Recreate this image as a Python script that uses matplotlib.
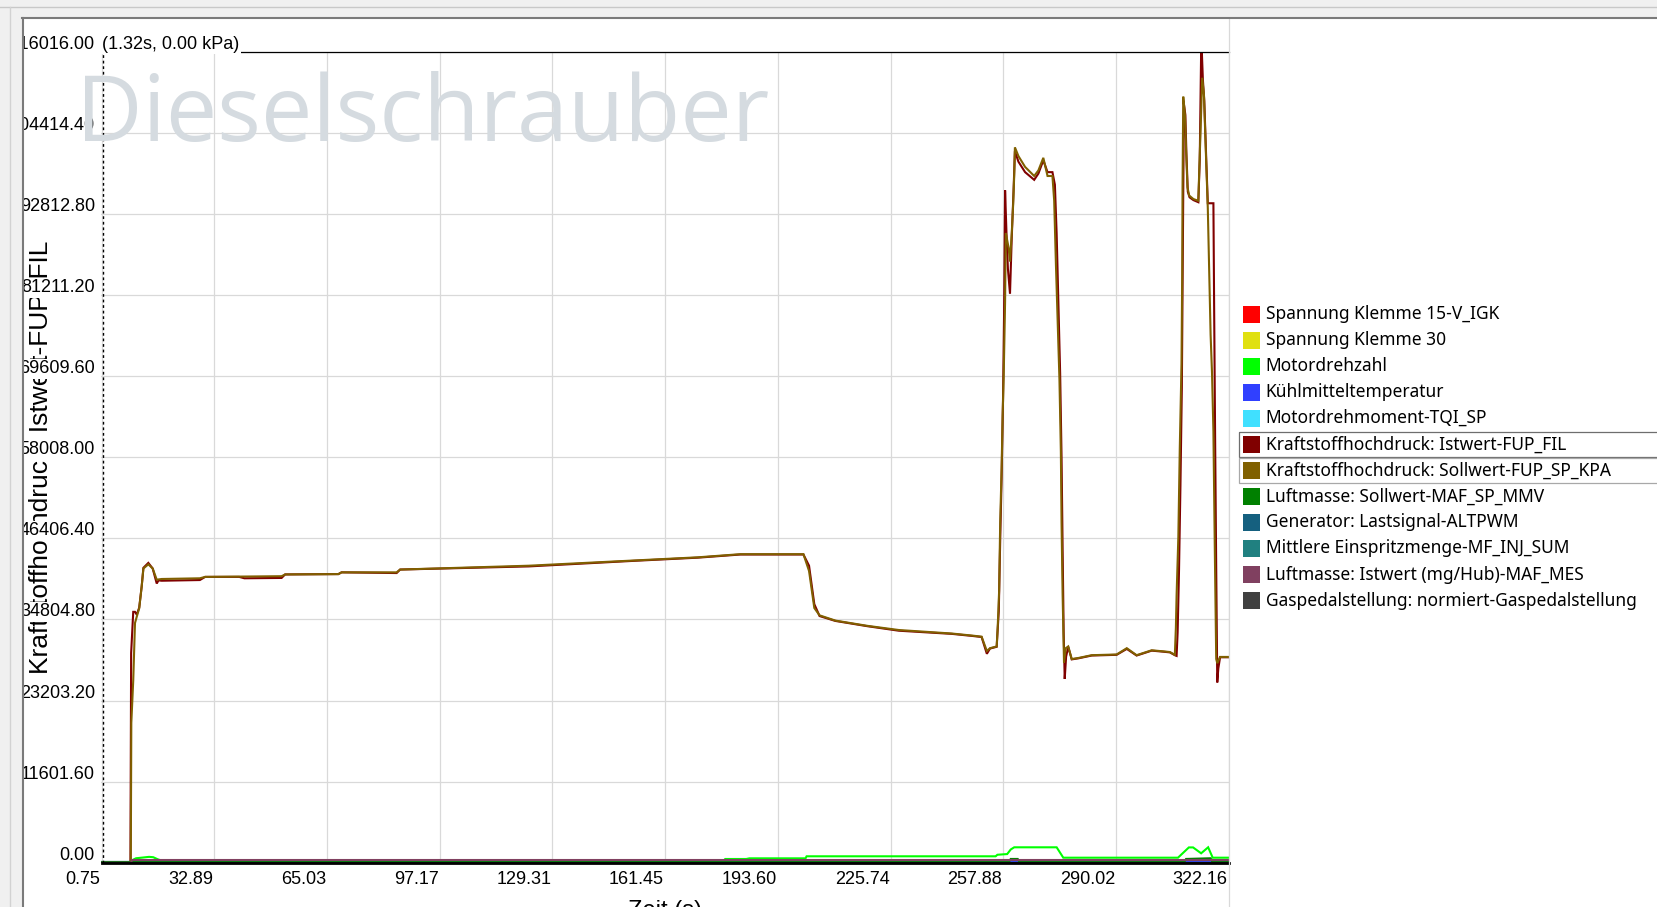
import matplotlib
matplotlib.use("Agg")
import matplotlib.pyplot as plt
from matplotlib.patches import Rectangle
from matplotlib.transforms import offset_copy

W, H = 1658, 907

# ---- axis ticks ----
x_ticks = [0.75, 32.89, 65.03, 97.17, 129.31, 161.45, 193.60, 225.74, 257.88, 290.02, 322.16]
x_tick_labels = ["0.75", "32.89", "65.03", "97.17", "129.31", "161.45", "193.60",
                 "225.74", "257.88", "290.02", "322.16"]
y_ticks = [0, 11601.6, 23203.2, 34804.8, 46406.4, 58008.0, 69609.6, 81211.2,
           92812.8, 104414.4, 116016.0]
y_tick_labels = ["0.00", "11601.60", "23203.20", "34804.80", "46406.40", "58008.00",
                 "69609.60", "81211.20", "92812.80", "104414.40", "116016.00"]
cursor_time = 1.32
cursor_text = "(1.32s, 0.00 kPa)"

# ---- Kraftstoffhochdruck: Sollwert (kPa) ----
soll_t = [0.75, 9.1, 9.25, 9.8, 10.3, 10.8, 11.5, 12.2, 12.7, 14.1, 15.35, 16.5, 17.9,
          28.8, 30.3, 52.1, 53.1, 68.3, 69.2, 84.9, 85.9, 122.6, 152.7, 170.8, 182.9,
          200.9, 202.5, 204.0, 205.5, 210.0, 219.1, 228.1, 243.2, 249.1, 251.7, 253.2,
          254.1, 256.0, 256.3, 256.7, 257.0, 257.4, 257.7, 258.0, 258.4, 258.6, 259.4,
          259.8, 260.3, 260.7, 261.0, 261.2, 262.2, 264.1, 266.7, 267.9, 269.3, 270.5,
          271.9, 272.4, 272.9, 273.4, 273.9, 274.3, 274.5, 274.8, 275.2, 275.7, 276.4,
          277.4, 279.3, 283.1, 290.2, 293.1, 295.9, 300.2, 303.5, 305.4, 306.8, 307.1,
          307.3, 307.8, 308.2, 308.7, 308.9, 309.0, 309.2, 309.7, 310.0, 310.4, 310.9,
          312.1, 313.5, 313.8, 314.2, 314.6, 315.1, 315.7, 316.2, 316.6, 317.0, 317.4,
          317.8, 318.2, 318.6, 318.9, 319.7, 322.16]
soll_kpa = [0, 0, 20000, 26100, 34300, 35200, 36400, 39500, 42100, 42700, 42100, 40500, 40600,
            40700, 40900, 41000, 41250, 41300, 41550, 41550, 41950, 42500, 43250, 43700, 44150,
            44150, 41750, 36450, 35400, 34650, 33900, 33300, 32800, 32500, 32350, 30300,
            30700, 30950, 33800, 38900, 48600, 56300, 64000, 69600, 80350, 90100, 88000,
            86000, 90100, 94200, 98300, 102350, 101100, 99550, 98250, 99050, 100850, 98250,
            98250, 94700, 85500, 77300, 69100, 58850, 48600, 38400, 28650, 30700, 30950,
            29150, 29300, 29700, 29800, 30700, 29700, 30400, 30250, 30150, 29750, 33650,
            38200, 46600, 59000, 71300, 84000, 96650, 109600, 106900, 102050, 96650, 95450,
            94950, 94700, 99650, 105700, 112300, 109900, 100850, 93650, 84600, 75550, 70100,
            61700, 44800, 29150, 28550, 29450, 29450]

# ---- Kraftstoffhochdruck: Istwert (kPa) ----
ist_t = [0.75, 9.0, 9.2, 9.8, 10.3, 10.8, 11.5, 12.2, 12.7, 14.1, 15.35, 16.5, 17.0, 17.9,
         28.8, 30.3, 40.0, 41.5, 52.1, 53.1, 68.3, 69.2, 84.9, 85.9, 122.6, 152.7, 170.8,
         182.9, 200.9, 202.5, 204.0, 205.5, 210.0, 219.1, 228.1, 243.2, 249.1, 251.7, 253.2,
         254.1, 256.0, 256.6, 257.0, 257.4, 257.8, 258.1, 258.4, 258.8, 259.2, 259.8, 260.3,
         260.8, 261.2, 262.2, 264.1, 266.7, 267.9, 269.3, 270.5, 271.9, 272.6, 273.1, 273.6,
         274.1, 274.5, 274.8, 275.1, 275.4, 275.8, 276.4, 277.4, 279.3, 283.1, 290.2, 293.1,
         295.9, 300.2, 303.5, 305.4, 306.8, 307.3, 307.6, 308.0, 308.4, 308.8, 309.0, 309.2,
         309.4, 309.8, 310.1, 310.5, 311.0, 312.1, 313.5, 313.9, 314.3, 314.5, 314.8, 315.2,
         315.8, 316.2, 317.8, 318.0, 318.3, 318.6, 318.9, 319.2, 319.7, 322.16]
ist_kpa = [0, 0, 30000, 35900, 35900, 35500, 36500, 39500, 42200, 42900, 42100, 39950, 40400,
           40350, 40450, 40900, 40900, 40700, 40750, 41250, 41300, 41550, 41450, 41950, 42400,
           43200, 43650, 44100, 44100, 42500, 37000, 35300, 34600, 33850, 33200, 32750, 32450,
           32300, 29900, 30650, 30900, 36000, 46000, 55000, 66000, 78000, 96200, 90000, 85000,
           81400, 89500, 96000, 101800, 100300, 98800, 97700, 98600, 100500, 98800, 98800,
           97000, 90000, 80000, 70000, 58000, 45000, 33000, 26300, 29500, 30900, 29100, 29250,
           29650, 29750, 30600, 29650, 30350, 30200, 30100, 29700, 29600, 33000, 42000, 54000,
           68000, 82000, 96000, 108500, 107000, 101500, 96000, 95200, 94800, 94500, 100500,
           116000, 116000, 112000, 109000, 100000, 94350, 94350, 80000, 60000, 42000, 25800,
           27800, 29400, 29400]

# ---- Motordrehzahl (rpm, on the same scale) ----
rpm_t = [0.75, 9.2, 9.8, 10.6, 12.5, 14.3, 15.5, 16.8, 17.5, 178.3, 178.6, 184.6, 185.5,
         201.5, 201.8, 255.7, 256.2, 258.0, 259.0, 260.0, 261.0, 273.1, 275.0, 307.7,
         310.8, 312.0, 314.3, 316.3, 317.6, 322.16]
rpm = [0, 0, 450, 650, 750, 850, 800, 500, 380, 380, 545, 545, 640,
       640, 930, 930, 1150, 1216, 1250, 1900, 2217, 2217, 730, 730,
       2200, 2200, 1360, 2217, 730, 730]

# ---- Luftmasse ----
maf_sp_t = [0.75, 259.5, 260.0, 262.0, 262.5, 309.5, 310.0, 317.0, 317.5, 322.16]
maf_sp = [120, 120, 550, 550, 120, 120, 550, 650, 120, 120]
maf_mes_t = [0.75, 9.2, 9.4, 322.16]
maf_mes = [0, 0, 400, 400]

# near-zero signals
flat_t = [0.75, 322.16]
klemme15 = [14, 14]
klemme30 = [14, 14]
kuehlmittel = [80, 80]
drehmoment = [40, 40]
generator = [30, 30]
einspritz = [10, 10]
gaspedal = [0, 0]

legend_names = ["Spannung Klemme 15-V_IGK", "Spannung Klemme 30", "Motordrehzahl",
                "Kühlmitteltemperatur", "Motordrehmoment-TQI_SP",
                "Kraftstoffhochdruck: Istwert-FUP_FIL",
                "Kraftstoffhochdruck: Sollwert-FUP_SP_KPA",
                "Luftmasse: Sollwert-MAF_SP_MMV", "Generator: Lastsignal-ALTPWM",
                "Mittlere Einspritzmenge-MF_INJ_SUM",
                "Luftmasse: Istwert (mg/Hub)-MAF_MES",
                "Gaspedalstellung: normiert-Gaspedalstellung"]
legend_colors = ["#ff0000", "#e0e010", "#00ff00", "#3040ff", "#40e0ff", "#800000",
                 "#806000", "#008000", "#15607f", "#208080", "#804060", "#404040"]

series = [(flat_t, klemme15), (flat_t, klemme30), (rpm_t, rpm), (flat_t, kuehlmittel),
          (flat_t, drehmoment), (ist_t, ist_kpa), (soll_t, soll_kpa), (maf_sp_t, maf_sp),
          (flat_t, generator), (flat_t, einspritz), (maf_mes_t, maf_mes), (flat_t, gaspedal)]

fig = plt.figure(figsize=(W / 100, H / 100), dpi=100, facecolor="white")

ax_l, ax_r, ax_t, ax_b = 101.5, 1228.7, 51.8, 862.8
ax = fig.add_axes([ax_l / W, 1 - ax_b / H, (ax_r - ax_l) / W, (ax_b - ax_t) / H])
for (tx, vy), c in zip(series, legend_colors):
    ax.plot(tx, vy, color=c, lw=1.5, solid_joinstyle="miter")

ax.set_xlim(x_ticks[0], x_ticks[-1])
ax.set_ylim(y_ticks[0], y_ticks[-1])
ax.set_xticks(x_ticks)
ax.set_yticks(y_ticks)
ax.tick_params(length=0, labelbottom=False, labelleft=False)
ax.grid(color="#d9d9d9", lw=0.9)
ax.set_axisbelow(True)
for s in ["left", "right"]:
    ax.spines[s].set_visible(False)
ax.spines["top"].set_linewidth(0.9)
ax.spines["bottom"].set_linewidth(2.0)
ax.axvline(cursor_time, color="black", lw=1, ls=(0, (2, 2)))

tick_font = dict(family="Liberation Sans", size=13, color="black")
xt = offset_copy(ax.get_xaxis_transform(), fig=fig, x=-1, y=-21.5, units="dots")
for v, lab in zip(x_ticks, x_tick_labels):
    ax.text(v, 0, lab, transform=xt, ha="right", va="baseline", **tick_font)

yt = offset_copy(ax.get_yaxis_transform(), fig=fig, x=-6.5, y=3, units="dots")
for v, lab in zip(y_ticks, y_tick_labels):
    ax.text(0, v, lab, transform=yt, ha="right", va="baseline", zorder=5,
            bbox=dict(fc="white", ec="none", pad=1), **tick_font)
ct = offset_copy(ax.get_yaxis_transform(), fig=fig, x=1, y=3, units="dots")
ax.text(0, y_ticks[-1], cursor_text, transform=ct, ha="left", va="baseline", zorder=5,
        bbox=dict(fc="white", ec="none", pad=1), **tick_font)

ylt = offset_copy(ax.transAxes, fig=fig, x=-60, y=0, units="dots")
ax.text(0, 0.5, "Kraftstoffhochdruck: Istwert-FUP_FIL", transform=ylt, rotation=90,
        ha="center", va="center", zorder=1, family="Liberation Sans", size=19)

# ---- overlay in pixel coordinates: window frame, watermark, legend ----
ov = fig.add_axes([0, 0, 1, 1], zorder=5)
ov.set_xlim(0, W)
ov.set_ylim(H, 0)
ov.axis("off")
ov.patch.set_alpha(0)

ov.text(76, 140.6, "Dieselschrauber", family="Open Sans", size=66, color="#d5dbe0",
        ha="left", va="baseline", zorder=1)

ov.add_patch(Rectangle((0, 0), W, 17, fc="#f0f0f0", ec="none", zorder=3))
ov.add_patch(Rectangle((0, 0), 22, H, fc="#f0f0f0", ec="none", zorder=3))
ov.plot([0, W], [6.5, 6.5], color="#c8c8c8", lw=1, zorder=4)
ov.plot([10.5, 10.5], [6.5, H], color="#d2d2d2", lw=1, zorder=4)
ov.plot([22, W], [17.5, 17.5], color="#7a7a7a", lw=1.5, zorder=4)
ov.plot([23, 23], [17.5, H], color="#7a7a7a", lw=1.5, zorder=4)
ov.plot([ax_r, ax_r], [18, H], color="#d9d9d9", lw=0.9, zorder=2)

ov.text((ax_l + ax_r) / 2, 900, "Zeit (s)", family="Liberation Sans", size=17,
        ha="center", va="top")

row0, row_h = 314.0, 26.05
for i, (name, c) in enumerate(zip(legend_names, legend_colors)):
    yc = row0 + i * row_h
    ov.add_patch(Rectangle((1243.5, yc - 8.5), 17, 17, fc=c, ec="none"))
    ov.text(1265.7, yc, name, family="Noto Sans", size=12.5, ha="left", va="center")
ov.add_patch(Rectangle((1239.5, row0 + 5 * row_h - 12.5), 500, 25, fc="none",
                       ec="#6e6e6e", lw=0.9))
ov.add_patch(Rectangle((1239.5, row0 + 6 * row_h - 12.5), 500, 25, fc="none",
                       ec="#a8a8a8", lw=0.9))

fig.savefig("out.png", dpi=100, facecolor="white")
